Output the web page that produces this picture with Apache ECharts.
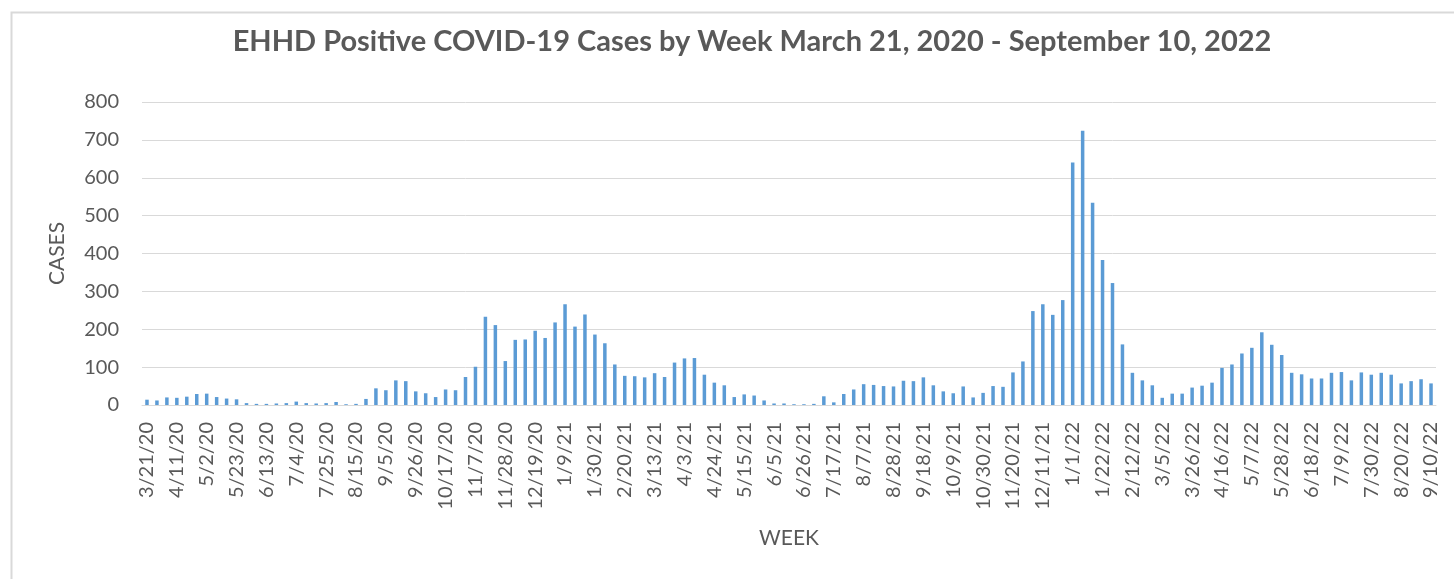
<!DOCTYPE html>
<html>
<head>
<meta charset="utf-8">
<script src="https://cdn.jsdelivr.net/npm/echarts@6/dist/echarts.min.js"></script>
<style>
html,body{margin:0;padding:0;background:#fff;}
#chart{width:1454px;height:579px;}
</style>
</head>
<body>
<div id="chart"></div>
<script>
const titleText = 'EHHD Positive COVID-19 Cases by Week March 21, 2020 - September 10, 2022';
const yAxisName = 'CASES';
const xAxisName = 'WEEK';

const weeks = [
  '3/21/20','3/28/20','4/4/20','4/11/20','4/18/20','4/25/20','5/2/20','5/9/20','5/16/20','5/23/20',
  '5/30/20','6/6/20','6/13/20','6/20/20','6/27/20','7/4/20','7/11/20','7/18/20','7/25/20','8/1/20',
  '8/8/20','8/15/20','8/22/20','8/29/20','9/5/20','9/12/20','9/19/20','9/26/20','10/3/20','10/10/20',
  '10/17/20','10/24/20','10/31/20','11/7/20','11/14/20','11/21/20','11/28/20','12/5/20','12/12/20','12/19/20',
  '12/26/20','1/2/21','1/9/21','1/16/21','1/23/21','1/30/21','2/6/21','2/13/21','2/20/21','2/27/21',
  '3/6/21','3/13/21','3/20/21','3/27/21','4/3/21','4/10/21','4/17/21','4/24/21','5/1/21','5/8/21',
  '5/15/21','5/22/21','5/29/21','6/5/21','6/12/21','6/19/21','6/26/21','7/3/21','7/10/21','7/17/21',
  '7/24/21','7/31/21','8/7/21','8/14/21','8/21/21','8/28/21','9/4/21','9/11/21','9/18/21','9/25/21',
  '10/2/21','10/9/21','10/16/21','10/23/21','10/30/21','11/6/21','11/13/21','11/20/21','11/27/21','12/4/21',
  '12/11/21','12/18/21','12/25/21','1/1/22','1/8/22','1/15/22','1/22/22','1/29/22','2/5/22','2/12/22',
  '2/19/22','2/26/22','3/5/22','3/12/22','3/19/22','3/26/22','4/2/22','4/9/22','4/16/22','4/23/22',
  '4/30/22','5/7/22','5/14/22','5/21/22','5/28/22','6/4/22','6/11/22','6/18/22','6/25/22','7/2/22',
  '7/9/22','7/16/22','7/23/22','7/30/22','8/6/22','8/13/22','8/20/22','8/27/22','9/3/22','9/10/22'
];

const cases = [
  14,12,20,19,22,29,30,21,17,15,
  5,3,3,4,5,9,5,4,5,8,
  2,3,16,44,39,65,63,36,31,21,
  41,39,74,101,233,211,116,172,173,196,
  177,218,266,207,239,186,163,107,77,76,
  73,84,74,112,123,124,80,59,52,21,
  28,25,12,4,4,2,2,3,23,7,
  29,41,55,53,50,49,64,63,73,52,
  36,31,49,20,32,50,48,86,115,248,
  266,238,277,640,724,534,383,322,160,85,
  65,52,19,30,30,46,51,59,98,107,
  136,151,192,159,132,85,81,70,70,85,
  87,65,86,80,85,80,57,63,68,57
];

const yTicks = { min: 0, max: 800, interval: 100 };

const chart = echarts.init(document.getElementById('chart'));
const FONT = 'Lato';
const TXT = '#595959';
chart.setOption({
  animation: false,
  backgroundColor: '#ffffff',
  graphic: [{
    type: 'rect',
    left: 9, top: 10,
    shape: { width: 1500, height: 620 },
    style: { fill: 'none', stroke: '#d9d9d9', lineWidth: 2 },
    silent: true
  }],
  title: {
    text: titleText,
    left: 747,
    top: 22,
    textAlign: 'center',
    textStyle: { fontFamily: FONT, fontWeight: 'bold', fontSize: 29, color: TXT }
  },
  grid: { left: 142, right: 18, top: 102, bottom: 174, containLabel: false },
  xAxis: {
    type: 'category',
    data: weeks,
    name: xAxisName,
    nameLocation: 'middle',
    nameGap: 123,
    nameTextStyle: { fontFamily: FONT, fontSize: 21, color: TXT },
    axisTick: { show: false },
    axisLine: { lineStyle: { color: '#d9d9d9', width: 1 } },
    axisLabel: {
      interval: 2,
      rotate: 90,
      margin: 17,
      fontFamily: FONT,
      fontSize: 20,
      color: TXT
    }
  },
  yAxis: {
    type: 'value',
    min: yTicks.min, max: yTicks.max, interval: yTicks.interval,
    name: yAxisName,
    nameLocation: 'middle',
    nameGap: 74,
    nameTextStyle: { fontFamily: FONT, fontSize: 21, color: TXT },
    axisLine: { show: false },
    axisTick: { show: false },
    splitLine: { lineStyle: { color: '#d9d9d9', width: 1 } },
    axisLabel: { margin: 23, fontFamily: FONT, fontSize: 20, color: TXT }
  },
  series: [{
    type: 'bar',
    data: cases,
    barWidth: 3.5,
    itemStyle: { color: '#5B9BD5' }
  }]
});
</script>
</body>
</html>
